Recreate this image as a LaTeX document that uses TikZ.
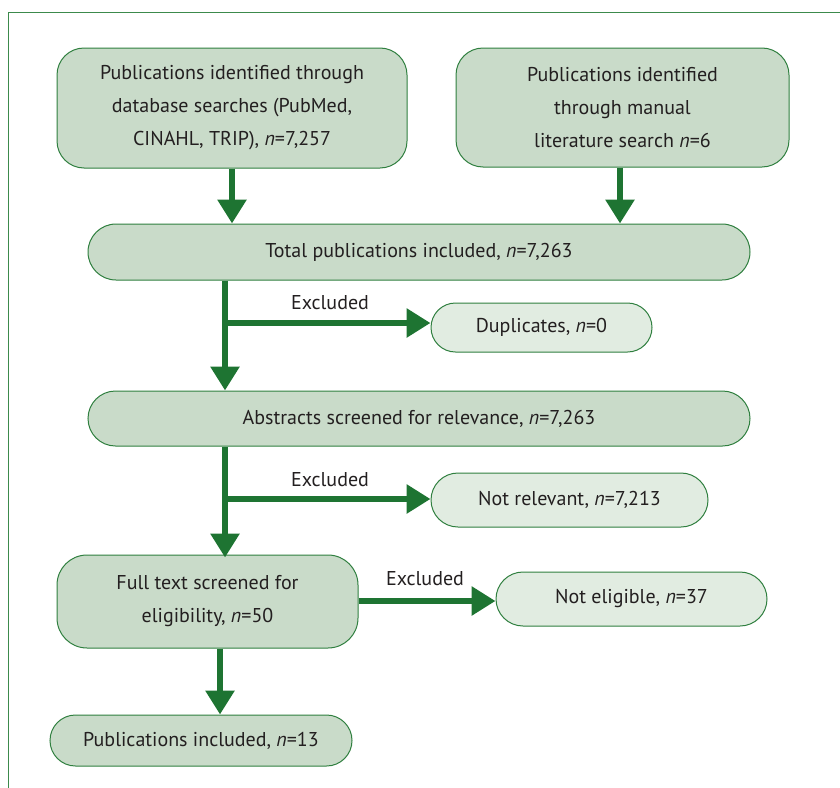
\documentclass[tikz,border=0pt]{standalone}
\usepackage{fontspec}
\setmainfont{PT Sans}
\usetikzlibrary{arrows.meta}
\definecolor{arrowgreen}{HTML}{1E7432}
\definecolor{bordergreen}{HTML}{2F7F3F}
\definecolor{framegreen}{HTML}{3C8A4C}
\definecolor{darkfill}{HTML}{C9DBC9}
\definecolor{lightfill}{HTML}{E1ECE1}
\definecolor{txt}{HTML}{231F20}
\begin{document}
\begin{tikzpicture}[x=1pt,y=-1pt,
  font=\fontsize{20}{33}\selectfont,
  box/.style={draw=bordergreen, line width=1pt, fill=darkfill, text=txt, align=center, inner sep=0pt},
  lbox/.style={box, fill=lightfill},
  conn/.style={draw=arrowgreen, line width=6.5pt, -{Triangle[width=28pt,length=24pt]}},
  lab/.style={text=txt, inner sep=0pt}]
\useasboundingbox (0,0) rectangle (840,787);
\draw[framegreen, line width=1pt] (8,790) -- (8,12) -- (843,12);

\node[box, minimum width=350pt, minimum height=120pt, rounded corners=27pt] (db) at (232,108)
  {Publications identified through\\database searches (PubMed,\\CINAHL, TRIP), \textit{n}=7,257};
\node[box, minimum width=333pt, minimum height=119pt, rounded corners=27pt] (man) at (622.5,107.5)
  {Publications identified\\through manual\\literature search \textit{n}=6};
\node[box, minimum width=662pt, minimum height=56pt, rounded corners=28pt] (tot) at (419,252)
  {Total publications included, \textit{n}=7,263};
\node[lbox, minimum width=221pt, minimum height=49pt, rounded corners=24.5pt] (dup) at (541.5,327.5)
  {Duplicates, \textit{n}=0};
\node[box, minimum width=662pt, minimum height=55pt, rounded corners=27.5pt] (abs) at (419,418.5)
  {Abstracts screened for relevance, \textit{n}=7,263};
\node[lbox, minimum width=277pt, minimum height=54pt, rounded corners=27pt] (nrel) at (569.5,500)
  {Not relevant, \textit{n}=7,213};
\node[box, minimum width=301pt, minimum height=93pt, rounded corners=30pt] (full) at (207.5,601.5)
  {Full text screened for\\eligibility, \textit{n}=50};
\node[lbox, minimum width=271pt, minimum height=54pt, rounded corners=27pt] (nelig) at (631.5,599)
  {Not eligible, \textit{n}=37};
\node[box, minimum width=302pt, minimum height=51pt, rounded corners=25.5pt] (incl) at (201,740.5)
  {Publications included, \textit{n}=13};

\node[lab] (ex1) at (330,303) {Excluded};
\node[lab] (ex2) at (330,480) {Excluded};
\node[lab] (ex3) at (425,579) {Excluded};

\coordinate (b1) at (225,323);
\coordinate (b2) at (225,499);

\draw[conn] (db.south -| 232,0) -- (tot.north -| 232,0);
\draw[conn] (man.south -| 620,0) -- (tot.north -| 620,0);
\draw[conn] (tot.south -| b1) -- (abs.north -| b1);
\draw[conn] ([xshift=-3pt]b1) -- (b1 -| dup.west);
\draw[conn] (abs.south -| b2) -- ([yshift=-3pt]full.north -| b2);
\draw[conn] ([xshift=-3pt]b2) -- (b2 -| nrel.west);
\draw[conn] (full.east |- 0,601) -- (nelig.west |- 0,601);
\draw[conn] (full.south -| 220,0) -- (incl.north -| 220,0);
\end{tikzpicture}
\end{document}
